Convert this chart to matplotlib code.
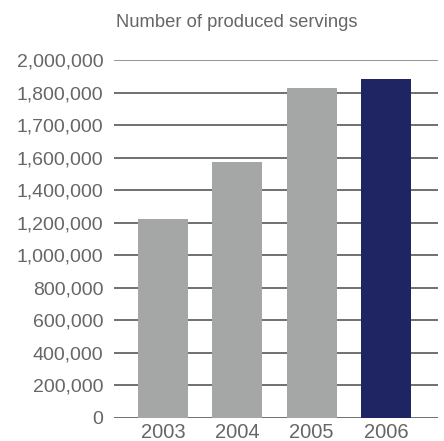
import numpy as np
from matplotlib import pyplot as plt

years = ["2003", "2004", "2005", "2006"]
servings = [1222000, 1572000, 1828000, 1882000]
bar_colors = ["#a5a7a6", "#a5a7a6", "#a5a7a6", "#1f2462"]

# the original axis has evenly spaced gridlines with uneven values
tick_values = [0, 200000, 400000, 600000, 800000, 1000000, 1200000,
               1400000, 1600000, 1700000, 1800000, 2000000]
tick_pos = np.arange(len(tick_values), dtype=float)


def forward(v):
    return np.interp(v, tick_values, tick_pos)


def inverse(p):
    return np.interp(p, tick_pos, tick_values)


plt.rcParams['font.family'] = ['Liberation Sans', 'DejaVu Sans']
text_color = "#666666"

fig = plt.figure(figsize=(4.44, 4.41), dpi=100)
ax = fig.add_axes([114 / 444, 1 - 418 / 441, 324 / 444, 358 / 441])

ax.set_yscale('function', functions=(forward, inverse))
x = np.arange(len(years))
ax.bar(x, servings, width=0.673, color=bar_colors, zorder=2)

ax.set_xlim(-0.66, 3.70)
ax.set_ylim(0, 2000000)
ax.set_yticks(tick_values)
ax.set_yticklabels([f"{v:,}" for v in tick_values])
ax.set_xticks(x)
ax.set_xticklabels(years)
ax.minorticks_off()

for v in tick_values:
    c = "#8c8c8c" if v == tick_values[-1] else "#646464"
    ax.axhline(v, color=c, linewidth=1.3, zorder=1)

for s in ax.spines.values():
    s.set_visible(False)
ax.tick_params(axis='y', length=0, pad=7.5, labelsize=14, labelcolor=text_color)
ax.tick_params(axis='x', length=0, pad=3.5, labelsize=14.5, labelcolor=text_color)

fig.text(237 / 444, 1 - 27 / 441, "Number of produced servings",
         ha='center', va='baseline', fontsize=13.2, color=text_color)

fig.savefig("out.png", dpi=100)
